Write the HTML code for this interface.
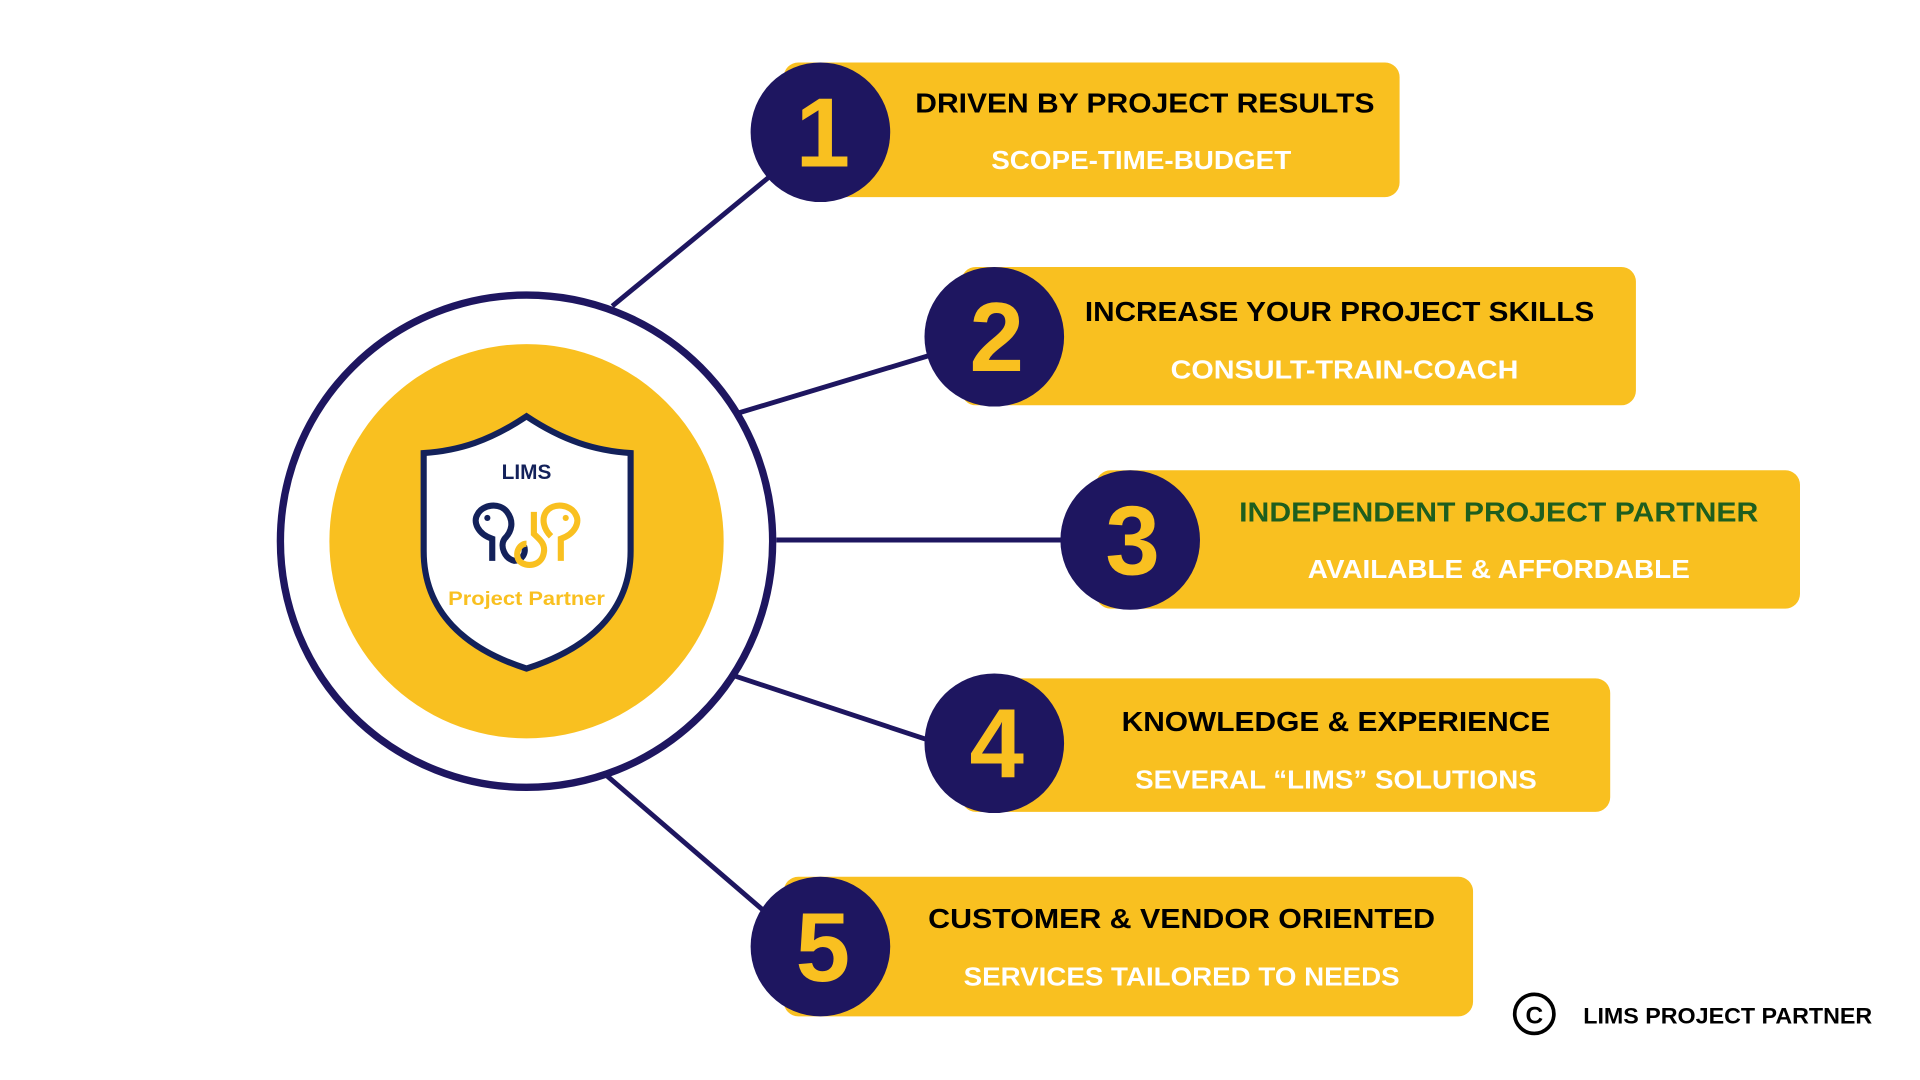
<!DOCTYPE html>
<html><head><meta charset="utf-8"><style>
html,body{margin:0;padding:0;background:#fff;width:1920px;height:1080px;overflow:hidden}
svg{display:block}
text{font-family:"Liberation Sans",sans-serif;font-weight:bold}
.t{font-size:22.5px;fill:#000;text-anchor:middle}
.s{font-size:21px;fill:#fff;text-anchor:middle}
.n{font-size:80px;fill:#f9c020;text-anchor:middle}
</style></head><body>
<svg width="1920" height="1080" viewBox="0 0 1568 882" xmlns="http://www.w3.org/2000/svg">
<g stroke="#1e1660" stroke-width="4">
<line x1="500" y1="250" x2="630" y2="143"/>
<line x1="604" y1="337" x2="760" y2="290"/>
<line x1="634" y1="441" x2="870" y2="441"/>
<line x1="600" y1="552" x2="757" y2="604"/>
<line x1="495" y1="633" x2="624" y2="744"/>
</g>
<circle cx="430" cy="442" r="201" fill="#fff" stroke="#1e1660" stroke-width="6"/>
<circle cx="430" cy="442" r="161" fill="#f9c020"/>
<path d="M430 340 C400 360 375 368 346 370 L346 450 C346 500 380 530 430 546 C480 530 515 500 515 450 L515 370 C486 368 460 360 430 340 Z" fill="#fff" stroke="#13215a" stroke-width="5"/>
<text x="430" y="391" font-size="17" fill="#13215a" text-anchor="middle">LIMS</text>
<g fill="none" stroke-width="5">
<path d="M402 458 L402 440 C390 436 386 426 390 420 C394 412 408 410 414 418 C420 426 418 434 412 440 C408 446 412 456 420 458 C426 458 430 452 428 446" stroke="#13215a"/>
<path d="M430 444 C424 444 420 452 424 458 C430 464 442 462 444 452 C446 444 440 440 436 436 L436 418" stroke="#f9c020"/>
<path d="M458 458 L458 440 C470 436 474 426 470 420 C466 412 452 410 446 418 C442 424 444 432 450 438" stroke="#f9c020"/>
</g>
<circle cx="398" cy="423" r="2.5" fill="#13215a"/>
<circle cx="462" cy="423" r="2.5" fill="#f9c020"/>
<text x="430" y="494" font-size="16" fill="#f9c020" text-anchor="middle" textLength="128" lengthAdjust="spacingAndGlyphs">Project Partner</text>

<rect x="640" y="51" width="503" height="110" rx="12" fill="#f9c020"/>
<circle cx="670" cy="108" r="57" fill="#1e1660"/>
<text class="n" x="672" y="136">1</text>
<text class="t" x="935" y="92" textLength="375" lengthAdjust="spacingAndGlyphs">DRIVEN BY PROJECT RESULTS</text>
<text class="s" x="932" y="138" textLength="245" lengthAdjust="spacingAndGlyphs">SCOPE-TIME-BUDGET</text>

<rect x="785" y="218" width="551" height="113" rx="12" fill="#f9c020"/>
<circle cx="812" cy="275" r="57" fill="#1e1660"/>
<text class="n" x="814" y="303">2</text>
<text class="t" x="1094" y="262" textLength="416" lengthAdjust="spacingAndGlyphs">INCREASE YOUR PROJECT SKILLS</text>
<text class="s" x="1098" y="309" textLength="284" lengthAdjust="spacingAndGlyphs">CONSULT-TRAIN-COACH</text>

<rect x="895" y="384" width="575" height="113" rx="12" fill="#f9c020"/>
<circle cx="923" cy="441" r="57" fill="#1e1660"/>
<text class="n" x="925" y="469">3</text>
<text class="t" x="1224" y="426" style="fill:#1e5e1e" textLength="424" lengthAdjust="spacingAndGlyphs">INDEPENDENT PROJECT PARTNER</text>
<text class="s" x="1224" y="472" textLength="312" lengthAdjust="spacingAndGlyphs">AVAILABLE &amp; AFFORDABLE</text>

<rect x="785" y="554" width="530" height="109" rx="12" fill="#f9c020"/>
<circle cx="812" cy="607" r="57" fill="#1e1660"/>
<text class="n" x="814" y="635">4</text>
<text class="t" x="1091" y="597" textLength="350" lengthAdjust="spacingAndGlyphs">KNOWLEDGE &amp; EXPERIENCE</text>
<text class="s" x="1091" y="644" textLength="328" lengthAdjust="spacingAndGlyphs">SEVERAL “LIMS” SOLUTIONS</text>

<rect x="640" y="716" width="563" height="114" rx="12" fill="#f9c020"/>
<circle cx="670" cy="773" r="57" fill="#1e1660"/>
<text class="n" x="672" y="801">5</text>
<text class="t" x="965" y="758" textLength="414" lengthAdjust="spacingAndGlyphs">CUSTOMER &amp; VENDOR ORIENTED</text>
<text class="s" x="965" y="805" textLength="356" lengthAdjust="spacingAndGlyphs">SERVICES TAILORED TO NEEDS</text>

<circle cx="1253" cy="828" r="16" fill="none" stroke="#000" stroke-width="3"/>
<text x="1253" y="836" font-size="20" text-anchor="middle" fill="#000">C</text>
<text x="1293" y="836" font-size="18" fill="#000" textLength="236" lengthAdjust="spacingAndGlyphs">LIMS PROJECT PARTNER</text>
</svg>
</body></html>
